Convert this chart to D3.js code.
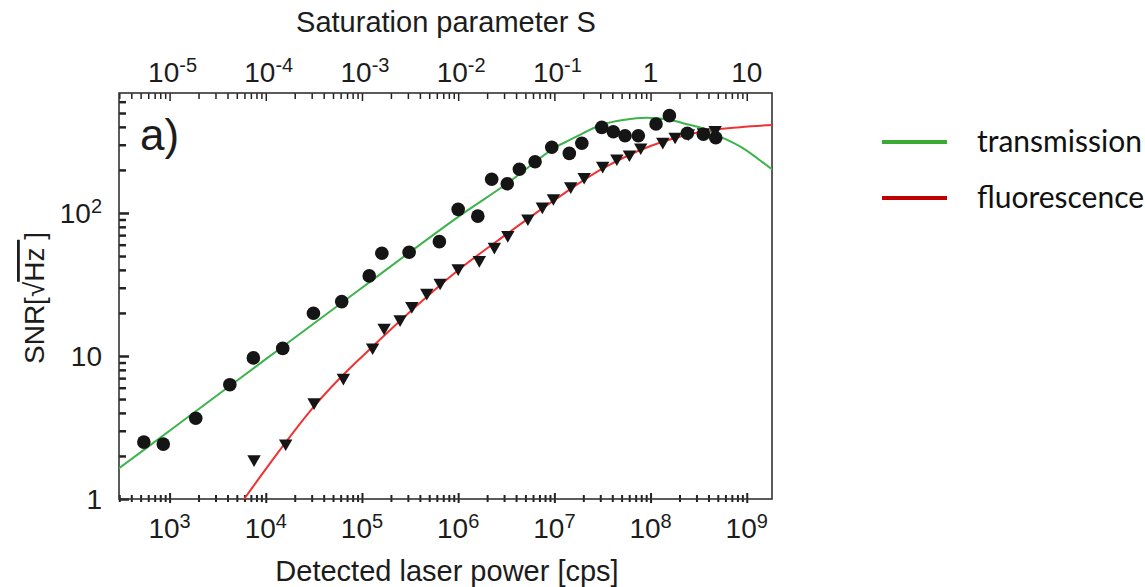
<!DOCTYPE html>
<html>
<head>
<meta charset="utf-8">
<script src="https://cdn.jsdelivr.net/npm/d3@7"></script>
<style>
body { margin: 0; background: #fff; }
svg { display: block; }
text { font-family: "Liberation Sans", Arial, sans-serif; fill: #1c1c1c; }
.legend text { font-family: Lato, "Open Sans", sans-serif; fill: #111; }
</style>
</head>
<body>
<svg width="1145" height="587"></svg>
<script>
// measured SNR, transmission (circles)
var transPower = [540, 860, 1870, 4230, 7430, 15000, 31300, 61600, 119000, 161000,
  309000, 638000, 1.0e6, 1.6e6, 2.23e6, 3.24e6, 4.33e6, 6.3e6, 9.4e6, 1.43e7,
  1.93e7, 3.11e7, 4.1e7, 5.43e7, 7.46e7, 1.14e8, 1.57e8, 2.41e8, 3.54e8, 4.76e8];
var transSNR = [2.5, 2.42, 3.67, 6.3, 9.7, 11.3, 19.9, 24.0, 36.3, 52.3,
  53.1, 63, 106, 95, 172, 160, 202, 228, 288, 261,
  307, 397, 370, 347, 347, 419, 479, 361, 355, 336];

// measured SNR, fluorescence (triangles)
var fluoPower = [7550, 16100, 31800, 64100, 129000, 170000, 249000, 330000, 472000, 649000,
  1.0e6, 1.66e6, 2.38e6, 3.28e6, 5.3e6, 7.5e6, 9.77e6, 1.48e7, 2.04e7, 3.18e7,
  4.46e7, 6.03e7, 7.9e7, 1.34e8, 1.8e8, 2.47e8, 3.54e8, 4.69e8];
var fluoSNR = [1.9, 2.45, 4.75, 7.05, 11.5, 15.8, 18.1, 22.4, 27.7, 32.6,
  41.1, 46.9, 58.1, 70.2, 91.8, 111, 127, 154, 179, 214,
  241, 257, 288, 315, 342, 361, 367, 381];

// fit curves
var transFitPower = [250, 1e3, 1e4, 1e5, 1e6, 3.2e6, 1e7, 1.45e7, 2e7, 3.2e7, 5.2e7, 9.1e7,
  1.6e8, 2.4e8, 3.5e8, 5.3e8, 9.2e8, 1.82e9, 2.3e9];
var transFitSNR = [1.5, 3.0, 9.5, 30, 94, 160, 285, 324, 362, 417, 447, 464,
  447, 417, 391, 342, 283, 203, 185];
var fluoFitPower = [4790, 5960, 1e4, 17800, 31600, 56200, 1e5, 316000, 1e6, 3.16e6,
  1e7, 3.16e7, 1e8, 3.16e8, 8.5e8, 1.83e9, 2.3e9];
var fluoFitSNR = [0.81, 1.0, 1.62, 2.72, 4.42, 6.76, 9.89, 20.4, 39.8, 70.8,
  123, 204, 294, 367, 398, 412, 414];

var bottomTicks = [1e3, 1e4, 1e5, 1e6, 1e7, 1e8, 1e9];
var bottomLabels = ["10^3", "10^4", "10^5", "10^6", "10^7", "10^8", "10^9"];
var topTicks = [1e-5, 1e-4, 1e-3, 1e-2, 1e-1, 1, 10];
var topLabels = ["10^-5", "10^-4", "10^-3", "10^-2", "10^-1", "1", "10"];
var yTicks = [1, 10, 100];
var yLabels = ["1", "10", "10^2"];
var legendNames = ["transmission", "fluorescence"];
var legendColours = ["#3aaa35", "#c00000"];

var svg = d3.select("svg"),
  margin = { top: 93, left: 119 },
  width = 653,
  height = 406;

var x = d3.scaleLog().domain([298, 1.83e9]).range([0, width]),
    s = d3.scaleLog().domain([2.98e-6, 18.3]).range([0, width]),
    y = d3.scaleLog().domain([1, 690]).range([height, 0]);

var g = svg.append("g")
  .attr("transform", "translate(" + margin.left + "," + margin.top + ")");

function isMajor(d) {
  var l = Math.log10(d);
  return Math.abs(l - Math.round(l)) < 1e-9;
}

// label like "10^3" -> 10 with superscript
function writeLabel(sel, label) {
  var parts = label.split("^");
  sel.append("tspan").text(parts[0]);
  if (parts[1]) {
    sel.append("tspan").attr("dy", -10).style("font-size", "20px").text(parts[1]);
  }
}

g.append("defs").append("clipPath").attr("id", "clip")
  .append("rect").attr("width", width).attr("height", height);

// BOTTOM AXIS
var bx = g.append("g")
  .attr("transform", "translate(0," + height + ")")
  .call(d3.axisBottom(x).tickValues(x.ticks()).tickFormat("").tickSizeOuter(0));
bx.select(".domain").remove();
bx.selectAll(".tick line")
  .attr("stroke", "#222")
  .attr("stroke-width", 2)
  .attr("y1", function(d) { return isMajor(d) ? 4 : 3; })
  .attr("y2", function(d) { return isMajor(d) ? -6 : -4; });

bottomTicks.forEach(function(t, i) {
  var tx = g.append("text")
    .attr("x", x(t))
    .attr("y", height + 39)
    .attr("text-anchor", "middle")
    .style("font-size", "28px");
  writeLabel(tx, bottomLabels[i]);
});

// TOP AXIS
var tx = g.append("g")
  .call(d3.axisTop(s).tickValues(s.ticks().filter(function(d) { return s(d) >= 0 && s(d) <= width; }))
    .tickFormat("").tickSizeOuter(0));
tx.select(".domain").remove();
tx.selectAll(".tick line")
  .attr("stroke", "#222")
  .attr("stroke-width", 1.5)
  .attr("y2", function(d) { return isMajor(d) ? 8 : 6; });

topTicks.forEach(function(t, i) {
  var tt = g.append("text")
    .attr("x", s(t) + (topLabels[i].indexOf("^") > 0 ? 3 : 0))
    .attr("y", -11)
    .attr("text-anchor", "middle")
    .style("font-size", "28px");
  writeLabel(tt, topLabels[i]);
});

// LEFT AXIS
var ly = g.append("g")
  .call(d3.axisLeft(y).tickValues(y.ticks()).tickFormat("").tickSizeOuter(0));
ly.select(".domain").remove();
ly.selectAll(".tick line")
  .attr("stroke", "#222")
  .attr("stroke-width", 2.5)
  .attr("x2", function(d) { return isMajor(d) ? 10 : 7; });

yTicks.forEach(function(t, i) {
  var yt = g.append("text")
    .attr("x", -17)
    .attr("y", y(t))
    .attr("dy", "0.36em")
    .attr("text-anchor", "end")
    .style("font-size", "28px");
  writeLabel(yt, yLabels[i]);
});

// FRAME
g.append("rect")
  .attr("width", width)
  .attr("height", height)
  .attr("fill", "none")
  .attr("stroke", "#333")
  .attr("stroke-width", 1.6);

// CURVES
var line = d3.line()
  .x(function(d) { return x(d[0]); })
  .y(function(d) { return y(d[1]); })
  .curve(d3.curveCatmullRom.alpha(0.5));

g.append("path")
  .datum(d3.zip(transFitPower, transFitSNR))
  .attr("clip-path", "url(#clip)")
  .attr("fill", "none")
  .attr("stroke", "#3cb44b")
  .attr("stroke-width", 2)
  .attr("d", line);

g.append("path")
  .datum(d3.zip(fluoFitPower, fluoFitSNR))
  .attr("clip-path", "url(#clip)")
  .attr("fill", "none")
  .attr("stroke", "#f03232")
  .attr("stroke-width", 2)
  .attr("d", line);

// POINTS
g.selectAll(".dot")
  .data(d3.zip(transPower, transSNR))
  .enter().append("circle")
  .attr("class", "dot")
  .attr("cx", function(d) { return x(d[0]); })
  .attr("cy", function(d) { return y(d[1]); })
  .attr("r", 6.8)
  .attr("fill", "#151515");

var tri = d3.symbol().type(d3.symbolTriangle).size(78);
g.selectAll(".tri")
  .data(d3.zip(fluoPower, fluoSNR))
  .enter().append("path")
  .attr("class", "tri")
  .attr("d", tri)
  .attr("fill", "#151515")
  .attr("transform", function(d) { return "translate(" + x(d[0]) + "," + y(d[1]) + ") rotate(180)"; });

// AXIS TITLES
svg.append("text")
  .attr("x", 447)
  .attr("y", 581)
  .attr("text-anchor", "middle")
  .style("font-size", "29px")
  .text("Detected laser power [cps]");

svg.append("text")
  .attr("x", 446)
  .attr("y", 32)
  .attr("text-anchor", "middle")
  .style("font-size", "29px")
  .text("Saturation parameter S");

var yl = svg.append("text")
  .attr("transform", "translate(44,298) rotate(-90)")
  .attr("text-anchor", "middle")
  .style("font-size", "28px");
yl.append("tspan").text("SNR[\u221A");
yl.append("tspan").style("text-decoration", "overline").text("Hz ");
yl.append("tspan").text("]");

g.append("text")
  .attr("x", 21)
  .attr("y", 57)
  .style("font-size", "44px")
  .text("a)");

// LEGEND
var legend = svg.append("g").attr("class", "legend");
legendNames.forEach(function(name, i) {
  var ly0 = 142 + i * 56;
  legend.append("line")
    .attr("x1", 882).attr("x2", 947)
    .attr("y1", ly0).attr("y2", ly0)
    .attr("stroke", legendColours[i])
    .attr("stroke-width", 4);
  legend.append("text")
    .attr("x", 977)
    .attr("y", ly0 + 10)
    .style("font-size", "30px")
    .text(name);
});
</script>
</body>
</html>
